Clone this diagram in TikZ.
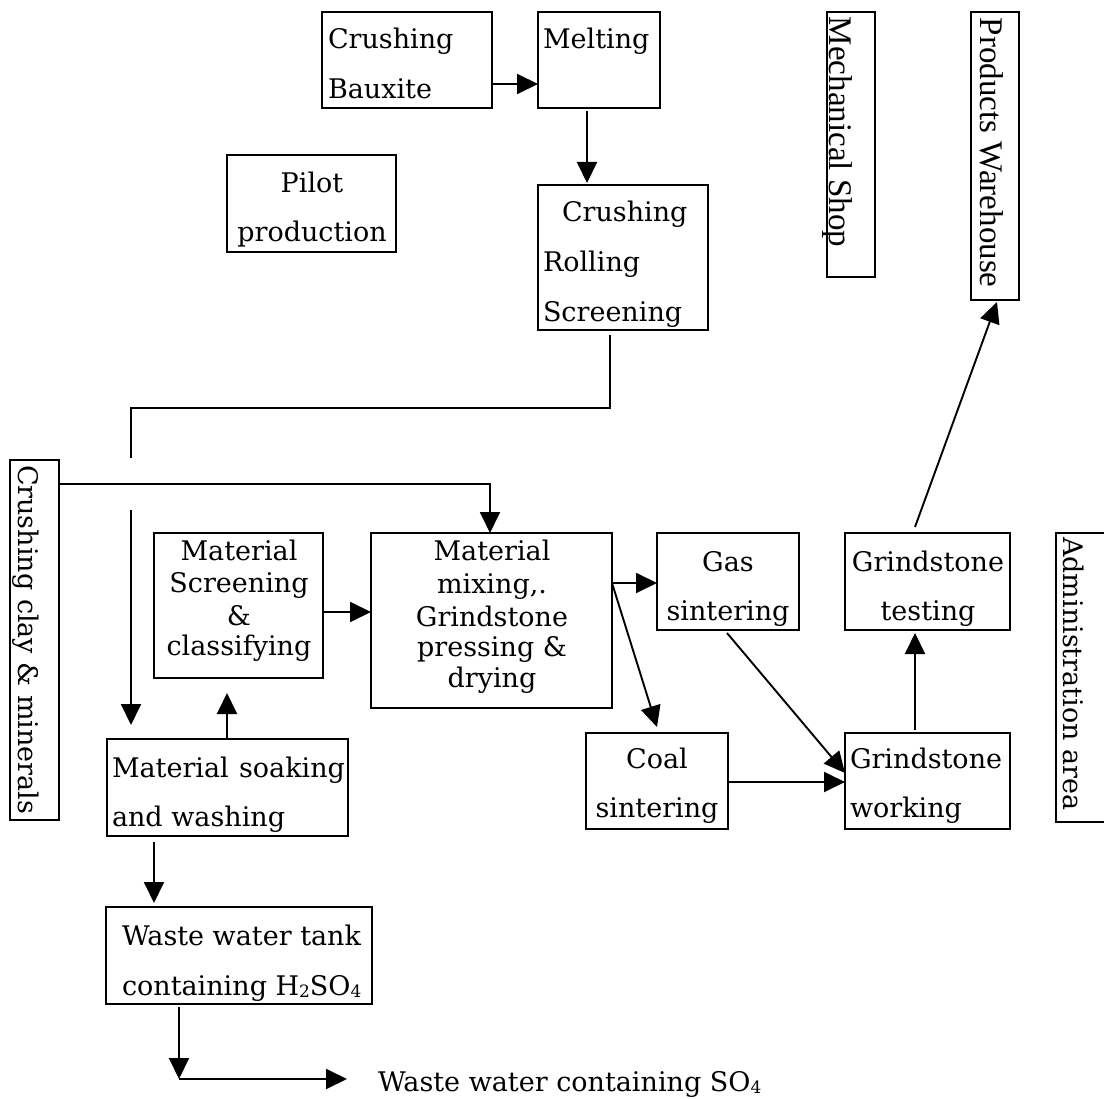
\documentclass[tikz,border=0pt]{standalone}
\usepackage{fontspec}
\setmainfont{DejaVu Serif}
\newfontfamily\timesfont{Liberation Serif}
\usetikzlibrary{arrows.meta,calc}
\newcommand{\chemsub}[1]{\raisebox{-2pt}{\fontsize{17}{17}\selectfont #1}}
\begin{document}
\begin{tikzpicture}[x=1pt,y=-1pt,
  box/.style={draw, line width=1.9pt, rectangle, inner sep=0pt, outer sep=0pt, anchor=north west},
  txt/.style={inner sep=0pt, outer sep=0pt, font=\fontsize{27}{32}\selectfont},
  tms/.style={inner sep=0pt, outer sep=0pt, font=\timesfont\fontsize{33}{38}\selectfont},
  lt/.style={txt, anchor=base west},
  ct/.style={txt, anchor=base},
  flow/.style={line width=1.9pt, -{Triangle[length=21pt,width=20pt]}},
  pipe/.style={line width=1.9pt},
]
\useasboundingbox (0,0) rectangle (1104,1099);

% ---- boxes ----
\node[box, minimum width=170pt, minimum height=96pt]  (cb)    at (322,12)  {};
\node[box, minimum width=122pt, minimum height=96pt]  (melt)  at (538,12)  {};
\node[box, minimum width=170pt, minimum height=145pt] (crs)   at (538,185) {};
\node[box, minimum width=169pt, minimum height=97pt]  (pilot) at (227,155) {};
\node[box, minimum width=48pt,  minimum height=265pt] (mech)  at (827,12)  {};
\node[box, minimum width=48pt,  minimum height=288pt] (prod)  at (971,12)  {};
\node[box, minimum width=49pt,  minimum height=360pt] (clay)  at (10,460)  {};
\node[box, minimum width=169pt, minimum height=145pt] (scr)   at (154,533) {};
\node[box, minimum width=241pt, minimum height=97pt]  (soak)  at (107,739) {};
\node[box, minimum width=241pt, minimum height=175pt] (mix)   at (371,533) {};
\node[box, minimum width=142pt, minimum height=97pt]  (gas)   at (657,533) {};
\node[box, minimum width=165pt, minimum height=97pt]  (test)  at (845,533) {};
\node[box, minimum width=142pt, minimum height=96pt]  (coal)  at (586,733) {};
\node[box, minimum width=165pt, minimum height=96pt]  (work)  at (845,733) {};
\node[box, minimum width=60pt,  minimum height=289pt] (admin) at (1056,533) {};
\node[box, minimum width=266pt, minimum height=97pt]  (tank)  at (106,907) {};

% ---- texts ----
\node[lt] (cbA) at (328,49) {Crushing};
\node[lt] (cbB) at (328,99) {Bauxite};
\node[lt] (meltA) at (543,49) {Melting};
\node[lt] (crsA) at (562,222) {Crushing};
\node[lt] (crsB) at (543,272) {Rolling};
\node[lt] (crsC) at (543,322) {Screening};
\node[ct] (pilotA) at (312,193) {Pilot};
\node[ct] (pilotB) at (312,242) {production};
\node[ct] (gasA) at (728,571) {Gas};
\node[ct] (gasB) at (728,620) {sintering};
\node[ct] (testA) at (928,571) {Grindstone};
\node[ct] (testB) at (928,620) {testing};
\node[ct] (coalA) at (657,768) {Coal};
\node[ct] (coalB) at (657,817) {sintering};
\node[lt] (workA) at (850,768) {Grindstone};
\node[lt] (workB) at (850,817) {working};
\node[ct] (scrA) at (239,560) {Material};
\node[ct] (scrB) at (239,592) {Screening};
\node[ct] (scrC) at (239,625) {\&};
\node[ct] (scrD) at (239,655) {classifying};
\node[ct] (mixA) at (492,560) {Material};
\node[ct] (mixB) at (492,593) {mixing,.};
\node[ct] (mixC) at (492,626) {Grindstone};
\node[ct] (mixD) at (492,656) {pressing \&};
\node[ct] (mixE) at (492,687) {drying};
\node[lt] (soakA) at (112,777) {\hbox to 233pt{Material\hfil soaking}};
\node[lt] (soakB) at (112,826) {and washing};
\node[lt] (tankA) at (122,945) {Waste water tank};
\node[lt] (tankB) at (122,995) {containing H\chemsub{2}SO\chemsub{4}};
\node[lt] (wout) at (378,1091) {Waste water containing SO\chemsub{4}};
\node[txt, rotate=-90, anchor=base west] (clayT) at (18,465) {Crushing clay \& minerals};
\node[txt, rotate=-90, anchor=base west] (adminT) at (1063,537) {Administration area};
\node[tms, rotate=-90, anchor=base west] (mechT) at (829,17) {Mechanical Shop};
\node[tms, rotate=-90, anchor=base west] (prodT) at (980,18) {Products Warehouse};

% ---- connectors ----
\draw[flow] ($(cb.south east)+(0,-24)$) -- ($(melt.south west)+(0,-24)$);
\draw[flow] ($(melt.south west)+(49,3)$) -- ($(crs.north west)+(49,-2)$);
\coordinate (j1) at (131,458);
\coordinate (j2) at (131,510);
\draw[pipe] ($(crs.south west)+(72,5)$) -- ++(0,73) -| (j1);
\draw[flow] (j2) -- ($(soak.north west)+(24,-14)$);
\draw[flow] ($(clay.north east)+(0,24)$) -| ($(mix.north west)+(119,0)$);
\draw[flow] ($(soak.north west)+(120,0)$) -- ($(scr.south west)+(73,15)$);
\draw[flow] ($(scr.north east)+(0,79)$) -- ($(mix.north west)+(0,79)$);
\draw[flow] ($(mix.north east)+(0,50)$) -- ($(gas.north west)+(0,50)$);
\draw[flow] ($(mix.north east)+(0,50)$) -- ($(coal.north west)+(71,-6)$);
\draw[flow] ($(gas.south west)+(70,3)$) -- ($(work.north west)+(0,40)$);
\draw[flow] ($(coal.north east)+(0,49)$) -- ($(work.north west)+(0,49)$);
\draw[flow] ($(work.north west)+(70,-3)$) -- ($(test.south west)+(70,3)$);
\draw[flow] ($(test.north west)+(70,-6)$) -- ($(prod.south west)+(26,2)$);
\draw[flow] ($(soak.south west)+(47,6)$) -- ($(tank.north west)+(48,-4)$);
\coordinate (bend) at (179,1079);
\draw[flow] ($(tank.south west)+(73,3)$) -- (bend);
\draw[flow] (bend) -- ($(bend -| wout.west)+(-31,0)$);
\end{tikzpicture}
\end{document}
